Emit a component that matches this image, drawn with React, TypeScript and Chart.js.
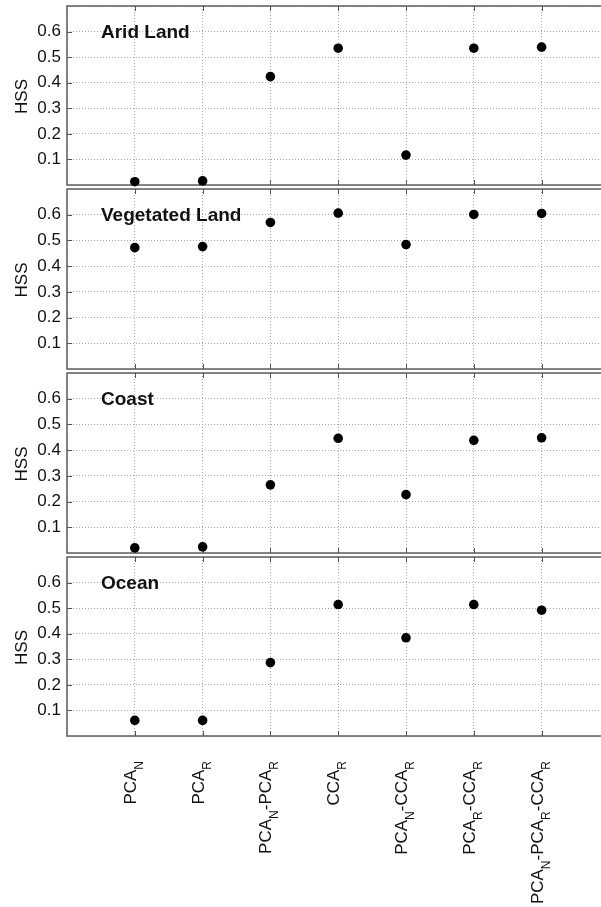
import React, { useEffect, useRef } from "react";
import { Chart, registerables } from "chart.js";

Chart.register(...registerables);

// ---------------- data ----------------
const categoryPositions = [1, 2, 3, 4, 5, 6, 7];
const xLabelParts: [string, string][][] = [
  [["PCA", "N"]],
  [["PCA", "R"]],
  [["PCA", "N"], ["-PCA", "R"]],
  [["CCA", "R"]],
  [["PCA", "N"], ["-CCA", "R"]],
  [["PCA", "R"], ["-CCA", "R"]],
  [["PCA", "N"], ["-PCA", "R"], ["-CCA", "R"]],
];
const panelTitles = ["Arid Land", "Vegetated Land", "Coast", "Ocean"];
const aridLand = [0.013, 0.016, 0.424, 0.535, 0.117, 0.535, 0.539];
const vegetatedLand = [0.472, 0.476, 0.57, 0.606, 0.484, 0.601, 0.605];
const coast = [0.02, 0.024, 0.265, 0.446, 0.227, 0.438, 0.448];
const ocean = [0.061, 0.061, 0.287, 0.514, 0.384, 0.514, 0.492];
const yAxisTitle = "HSS";
const yMin = 0;
const yMax = 0.7;
const yStep = 0.1;
const xMin = 0;
const xMax = 8;

// ---------------- layout ----------------
const FONT = "Arial, 'Liberation Sans', sans-serif";
const CANVAS_W = 620;
const panels = [
  { top: 0, height: 187, padTop: 6, padBottom: 2, values: aridLand },
  { top: 187, height: 184, padTop: 2, padBottom: 2, values: vegetatedLand },
  { top: 371, height: 184, padTop: 2, padBottom: 2, values: coast },
  { top: 555, height: 352, padTop: 2, padBottom: 171, values: ocean },
];

function makePlugin(title: string, showXLabels: boolean) {
  return {
    id: "matlabFrame",
    beforeDatasetsDraw(chart: any) {
      const { ctx, chartArea: a, scales } = chart;
      ctx.save();
      ctx.strokeStyle = "#5e5e5e";
      ctx.lineWidth = 1.5;
      ctx.strokeRect(a.left, a.top, a.right - a.left, a.bottom - a.top);
      ctx.lineWidth = 1;
      ctx.strokeStyle = "#555";
      ctx.beginPath();
      for (const p of categoryPositions) {
        const x = Math.round(scales.x.getPixelForValue(p)) + 0.5;
        ctx.moveTo(x, a.top);
        ctx.lineTo(x, a.top + 5);
        ctx.moveTo(x, a.bottom);
        ctx.lineTo(x, a.bottom - 5);
      }
      for (let v = yMin + yStep; v < yMax - yStep / 2; v += yStep) {
        const y = Math.round(scales.y.getPixelForValue(v)) + 0.5;
        ctx.moveTo(a.left, y);
        ctx.lineTo(a.left + 5, y);
      }
      ctx.stroke();
      ctx.restore();
    },
    afterDraw(chart: any) {
      const { ctx, chartArea: a, scales } = chart;
      ctx.save();
      ctx.fillStyle = "#111";
      // panel title
      ctx.font = `bold 19px ${FONT}`;
      ctx.textAlign = "left";
      ctx.textBaseline = "middle";
      ctx.fillText(title, a.left + 34, scales.y.getPixelForValue(0.6) + 1);
      // y axis title
      ctx.save();
      ctx.font = `17px ${FONT}`;
      ctx.translate(27, (a.top + a.bottom) / 2 + 1);
      ctx.rotate(-Math.PI / 2);
      ctx.textAlign = "center";
      ctx.textBaseline = "alphabetic";
      ctx.fillText(yAxisTitle, 0, 0);
      ctx.restore();
      // x labels
      if (showXLabels) {
        const mainFont = `17px ${FONT}`;
        const subFont = `12px ${FONT}`;
        xLabelParts.forEach((parts, i) => {
          const x = scales.x.getPixelForValue(categoryPositions[i]);
          let total = 0;
          for (const [m, s] of parts) {
            ctx.font = mainFont;
            total += ctx.measureText(m).width;
            ctx.font = subFont;
            total += ctx.measureText(s).width;
          }
          ctx.save();
          ctx.translate(x + 1, a.bottom + 25);
          ctx.rotate(-Math.PI / 2);
          ctx.textAlign = "left";
          ctx.textBaseline = "alphabetic";
          let cur = -total;
          for (const [m, s] of parts) {
            ctx.font = mainFont;
            ctx.fillText(m, cur, 0);
            cur += ctx.measureText(m).width;
            ctx.font = subFont;
            ctx.fillText(s, cur, 7);
            cur += ctx.measureText(s).width;
          }
          ctx.restore();
        });
      }
      ctx.restore();
    },
  };
}

function Panel({ index }: { index: number }) {
  const ref = useRef<HTMLCanvasElement | null>(null);
  const cfg = panels[index];
  useEffect(() => {
    if (!ref.current) return;
    const chart = new Chart(ref.current, {
      type: "scatter",
      data: {
        datasets: [
          {
            data: cfg.values.map((v, i) => ({ x: categoryPositions[i], y: v })),
            backgroundColor: "#000",
            borderColor: "#000",
            borderWidth: 0,
            pointRadius: 4.8,
            clip: false as any,
          },
        ],
      },
      options: {
        responsive: false,
        maintainAspectRatio: false,
        animation: false,
        devicePixelRatio: 1,
        layout: {
          autoPadding: false,
          padding: { top: cfg.padTop, bottom: cfg.padBottom, left: 0, right: 10.6 },
        },
        plugins: { legend: { display: false }, tooltip: { enabled: false } },
        scales: {
          x: {
            type: "linear",
            min: xMin,
            max: xMax,
            ticks: { display: false, stepSize: 1, autoSkip: false },
            grid: { color: "#a8a8a8", lineWidth: 1, drawTicks: false },
            border: { display: false, dash: [1, 2] },
            afterFit: (s: any) => {
              s.height = 0;
              s.paddingLeft = 0;
              s.paddingRight = 0;
              s.paddingTop = 0;
              s.paddingBottom = 0;
            },
          },
          y: {
            type: "linear",
            min: yMin,
            max: yMax,
            ticks: {
              stepSize: yStep,
              padding: 6,
              autoSkip: false,
              color: "#111",
              font: { family: FONT, size: 17 },
              callback: (v: any) => (v > 0.05 && v < 0.65 ? Number(v).toFixed(1) : ""),
            },
            grid: { color: "#a8a8a8", lineWidth: 1, drawTicks: false },
            border: { display: false, dash: [1, 2] },
            afterFit: (s: any) => {
              s.width = 67;
              s.paddingTop = 0;
              s.paddingBottom = 0;
              s.paddingLeft = 0;
              s.paddingRight = 0;
            },
          },
        },
      } as any,
      plugins: [makePlugin(panelTitles[index], index === panels.length - 1)],
    });
    return () => chart.destroy();
  }, [index]);
  return (
    <canvas
      ref={ref}
      width={CANVAS_W}
      height={cfg.height}
      style={{
        position: "absolute",
        left: 0,
        top: cfg.top,
        width: CANVAS_W,
        height: cfg.height,
        display: "block",
      }}
    />
  );
}

export default function App() {
  return (
    <div
      style={{
        position: "absolute",
        left: 0,
        top: 0,
        width: 601,
        height: 907,
        overflow: "hidden",
        background: "#fff",
      }}
    >
      {panels.map((_, i) => (
        <Panel key={i} index={i} />
      ))}
    </div>
  );
}
